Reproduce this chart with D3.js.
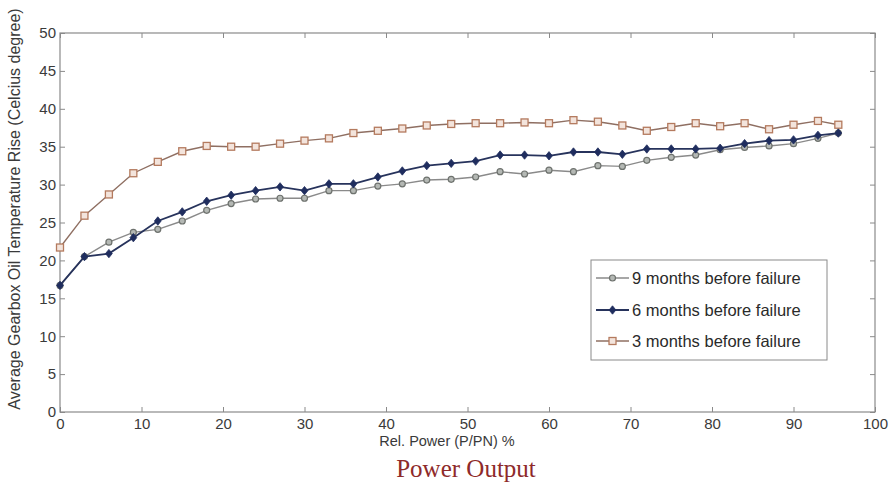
<!DOCTYPE html>
<html>
<head>
<meta charset="utf-8">
<script src="https://cdn.jsdelivr.net/npm/d3@7"></script>
<style>
  html, body { margin: 0; padding: 0; background: #fff; }
  svg { display: block; }
  text { font-family: "Liberation Sans", Arial, sans-serif; }
</style>
</head>
<body>
<svg id="chart" width="890" height="485"></svg>
<script>
// ---- data ----
const powerPct = [0, 3, 6, 9, 12, 15, 18, 21, 24, 27, 30, 33, 36, 39, 42, 45, 48, 51, 54, 57, 60, 63, 66, 69, 72, 75, 78, 81, 84, 87, 90, 93, 95.5];
const nineMonths = [16.7, 20.5, 22.4, 23.7, 24.1, 25.2, 26.6, 27.5, 28.1, 28.2, 28.2, 29.2, 29.2, 29.8, 30.1, 30.6, 30.7, 31.0, 31.7, 31.4, 31.9, 31.7, 32.5, 32.4, 33.2, 33.6, 33.9, 34.6, 34.9, 35.1, 35.4, 36.1, 36.8];
const sixMonths = [16.7, 20.5, 20.9, 23.0, 25.2, 26.4, 27.8, 28.6, 29.2, 29.7, 29.2, 30.1, 30.1, 31.0, 31.8, 32.5, 32.8, 33.1, 33.9, 33.9, 33.8, 34.3, 34.3, 34.0, 34.7, 34.7, 34.7, 34.8, 35.4, 35.8, 35.9, 36.5, 36.8];
const threeMonths = [21.7, 25.9, 28.7, 31.5, 33.0, 34.4, 35.1, 35.0, 35.0, 35.4, 35.8, 36.1, 36.8, 37.1, 37.4, 37.8, 38.0, 38.1, 38.1, 38.2, 38.1, 38.5, 38.3, 37.8, 37.1, 37.6, 38.1, 37.7, 38.1, 37.3, 37.9, 38.4, 37.9];
const xTicks = [0, 10, 20, 30, 40, 50, 60, 70, 80, 90, 100];
const yTicks = [0, 5, 10, 15, 20, 25, 30, 35, 40, 45, 50];
const seriesNames = ["9 months before failure", "6 months before failure", "3 months before failure"];
const xLabel = "Rel. Power (P/PN) %";
const yLabel = "Average Gearbox Oil Temperature Rise (Celcius degree)";
const subTitle = "Power Output";

// ---- layout ----
const svg = d3.select("#chart");
const L = 60, R = 875, T = 33, B = 412;
const x = d3.scaleLinear().domain([0, 100]).range([L, R]);
const y = d3.scaleLinear().domain([0, 50]).range([B, T]);

const axisColor = "#8a8a8a";
const labelColor = "#3a3a3a";

// frame
svg.append("rect").attr("x", L).attr("y", T).attr("width", R - L).attr("height", B - T)
  .attr("fill", "none").attr("stroke", axisColor).attr("stroke-width", 1.2);

function styleAxis(g, showLabels) {
  g.select(".domain").remove();
  g.selectAll(".tick line").attr("stroke", axisColor).attr("stroke-width", 1);
  g.selectAll(".tick text").attr("fill", labelColor)
    .style("font-size", "15px").style("font-family", "'Liberation Sans', Arial, sans-serif");
  if (!showLabels) g.selectAll(".tick text").remove();
}

// bottom axis (ticks inward)
svg.append("g").attr("transform", `translate(0,${B})`)
  .call(d3.axisBottom(x).tickValues(xTicks).tickSize(-5).tickPadding(6).tickFormat(d3.format("d")))
  .call(g => styleAxis(g, true));
// top axis
svg.append("g").attr("transform", `translate(0,${T})`)
  .call(d3.axisTop(x).tickValues(xTicks).tickSize(-5))
  .call(g => styleAxis(g, false));
// left axis
svg.append("g").attr("transform", `translate(${L},0)`)
  .call(d3.axisLeft(y).tickValues(yTicks).tickSize(-5).tickPadding(4).tickFormat(d3.format("d")))
  .call(g => styleAxis(g, true));
// right axis
svg.append("g").attr("transform", `translate(${R},0)`)
  .call(d3.axisRight(y).tickValues(yTicks).tickSize(-5))
  .call(g => styleAxis(g, false));

// axis labels
svg.append("text").attr("x", 447).attr("y", 446).attr("text-anchor", "middle")
  .attr("fill", labelColor).style("font-size", "14.5px").text(xLabel);
svg.append("text").attr("transform", `translate(20,209) rotate(-90)`)
  .attr("text-anchor", "middle").attr("fill", labelColor).style("font-size", "16px").text(yLabel);
svg.append("text").attr("x", 466).attr("y", 477).attr("text-anchor", "middle")
  .attr("fill", "#8e2a2a").style("font-family", "'Liberation Serif', 'Times New Roman', serif")
  .style("font-size", "25px").text(subTitle);

// ---- series ----
const series = [
  { name: seriesNames[2], values: threeMonths, line: "#8f6f62", mark: "square", fill: "#f3e4dc", stroke: "#b47a5e" },
  { name: seriesNames[0], values: nineMonths, line: "#8a8a8a", mark: "circle", fill: "#b4b8b4", stroke: "#6e726e" },
  { name: seriesNames[1], values: sixMonths, line: "#27335c", mark: "diamond", fill: "#1f2d5e", stroke: "#1f2d5e" }
];

const line = d3.line().x(d => x(d[0])).y(d => y(d[1]));

function drawMarker(g, type, cx, cy, s) {
  if (type === "square") {
    g.append("rect").attr("x", cx - 3.5).attr("y", cy - 3.5).attr("width", 7).attr("height", 7)
      .attr("fill", s.fill).attr("stroke", s.stroke).attr("stroke-width", 1.3);
  } else if (type === "circle") {
    g.append("circle").attr("cx", cx).attr("cy", cy).attr("r", 3)
      .attr("fill", s.fill).attr("stroke", s.stroke).attr("stroke-width", 1.2);
  } else {
    g.append("path").attr("d", `M${cx},${cy - 4.2}L${cx + 3.4},${cy}L${cx},${cy + 4.2}L${cx - 3.4},${cy}Z`)
      .attr("fill", s.fill).attr("stroke", s.stroke).attr("stroke-width", 0.8);
  }
}

series.forEach(s => {
  const pts = powerPct.map((p, i) => [p, s.values[i]]);
  const g = svg.append("g");
  g.append("path").attr("d", line(pts)).attr("fill", "none")
    .attr("stroke", s.line).attr("stroke-width", s.mark === "diamond" ? 1.8 : 1.4);
  pts.forEach(p => drawMarker(g, s.mark, x(p[0]), y(p[1]), s));
});

// ---- legend ----
const lg = svg.append("g");
lg.append("rect").attr("x", 591).attr("y", 260).attr("width", 236).attr("height", 100)
  .attr("fill", "#fff").attr("stroke", "#8a8a8a").attr("stroke-width", 1);
const legendOrder = [series[1], series[2], series[0]];
const legendY = [278, 310, 341];
legendOrder.forEach((s, i) => {
  const ly = legendY[i];
  lg.append("line").attr("x1", 596).attr("x2", 629).attr("y1", ly).attr("y2", ly)
    .attr("stroke", s.line).attr("stroke-width", s.mark === "diamond" ? 1.8 : 1.4);
  drawMarker(lg, s.mark, 612.5, ly, s);
  lg.append("text").attr("x", 632).attr("y", ly + 5.5).attr("fill", "#2a2a2a")
    .style("font-size", "16.5px").text(s.name);
});
</script>
</body>
</html>
